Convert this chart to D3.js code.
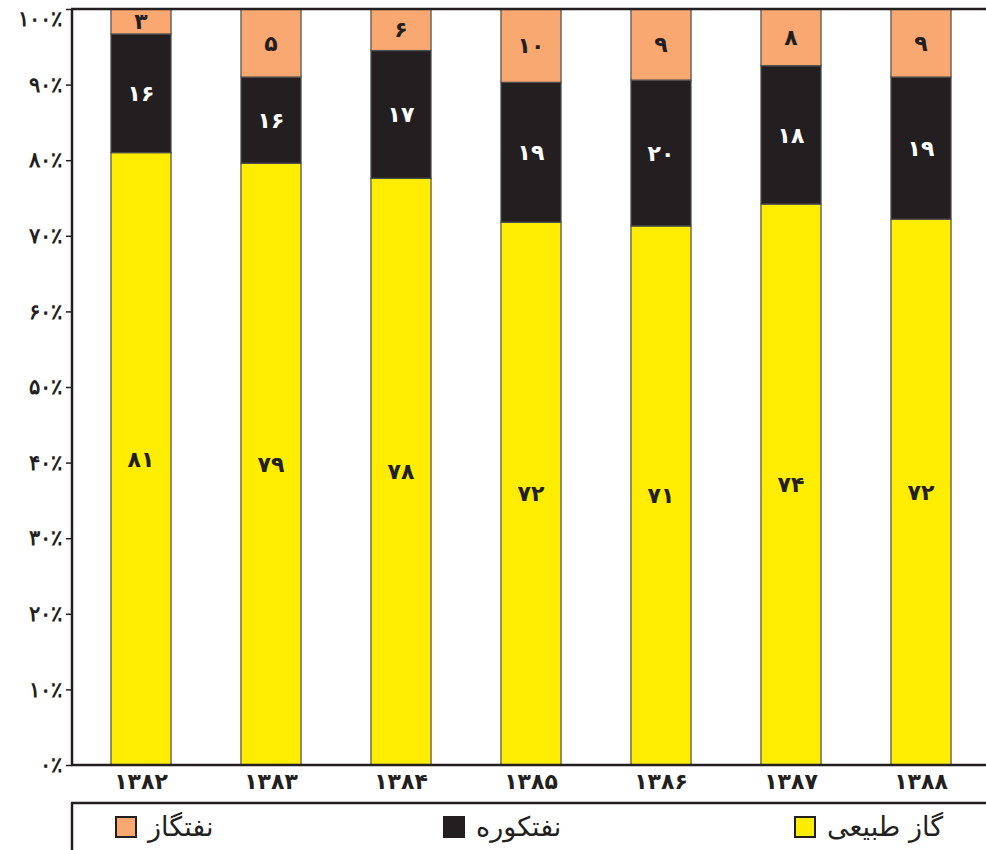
<!DOCTYPE html>
<html>
<head>
<meta charset="utf-8">
<script src="https://cdn.jsdelivr.net/npm/d3@7"></script>
<style>
  body { margin: 0; background: #fff; }
  svg { display: block; font-family: "DejaVu Sans", sans-serif; }
</style>
</head>
<body>
<svg width="986" height="850"></svg>
<script>
// years (Persian calendar)
const years = ["۱۳۸۲", "۱۳۸۳", "۱۳۸۴", "۱۳۸۵", "۱۳۸۶", "۱۳۸۷", "۱۳۸۸"];
// printed share of each fuel, percent
const gas = [81, 79, 78, 72, 71, 74, 72];        // گاز طبیعی
const mazut = [16, 16, 17, 19, 20, 18, 19];      // نفتکوره
const gasoil = [3, 5, 6, 10, 9, 8, 9];           // نفتگاز
// segment heights as drawn in the original (1383 is drawn off its labels)
const gasBar = [81, 79.6, 77.6, 71.8, 71.3, 74.2, 72.2];
const mazutBar = [15.7, 11.4, 16.9, 18.5, 19.3, 18.3, 18.8];
const gasoilBar = [3.3, 9.0, 5.5, 9.7, 9.4, 7.5, 9.0];
const seriesNames = ["گاز طبیعی", "نفتکوره", "نفتگاز"];
const yTicks = [0, 10, 20, 30, 40, 50, 60, 70, 80, 90, 100];

const colors = ["#ffed00", "#231f20", "#f8a870"];
const textColors = ["#231f20", "#ffffff", "#231f20"];
const labels = [gas, mazut, gasoil];

const faDigits = "۰۱۲۳۴۵۶۷۸۹";
const fa = n => String(n).replace(/[0-9]/g, c => faDigits[+c]);

const rows = years.map((y, i) => ({ year: y, i: i, gas: gasBar[i], mazut: mazutBar[i], gasoil: gasoilBar[i] }));
const keys = ["gas", "mazut", "gasoil"];

const stacked = d3.stack()
  .keys(keys)
  .offset(d3.stackOffsetExpand)(rows);

const svg = d3.select("svg");
const mLeft = 72, mTop = 9, mBottom = 765, mRight = 986;

const x = d3.scaleBand()
  .domain(years)
  .range([76, mRight])
  .paddingInner(0.538)
  .paddingOuter(0.269);

const y = d3.scaleLinear()
  .domain([0, 1])
  .range([mBottom, mTop]);

// bars
const layer = svg.selectAll("g.layer")
  .data(stacked)
  .join("g")
    .attr("class", "layer")
    .attr("fill", (d, i) => colors[i]);

layer.selectAll("rect")
  .data(d => d)
  .join("rect")
    .attr("x", d => x(d.data.year))
    .attr("y", d => y(d[1]))
    .attr("width", x.bandwidth())
    .attr("height", d => y(d[0]) - y(d[1]))
    .attr("stroke", "#4d4d4d")
    .attr("stroke-width", 1.2);

// value labels
stacked.forEach((s, si) => {
  svg.append("g")
    .selectAll("text")
    .data(s)
    .join("text")
      .attr("x", d => x(d.data.year) + x.bandwidth() / 2)
      .attr("y", d => (y(d[0]) + y(d[1])) / 2)
      .attr("dy", "0.35em")
      .attr("text-anchor", "middle")
      .attr("font-size", 22)
      .attr("font-weight", "bold")
      .attr("fill", textColors[si])
      .text(d => fa(labels[si][d.data.i]));
});

// y axis
const yAxis = svg.append("g")
  .attr("transform", `translate(${mLeft},0)`)
  .call(d3.axisLeft(y)
    .tickValues(yTicks.map(t => t / 100))
    .tickSize(6)
    .tickPadding(4)
    .tickFormat(d => fa(Math.round(d * 100)) + "٪"));
yAxis.select(".domain").remove();
yAxis.selectAll(".tick line").attr("stroke", "#231f20").attr("stroke-width", 1.5);
yAxis.selectAll(".tick text")
  .attr("font-size", 21)
  .attr("font-weight", "bold")
  .attr("fill", "#231f20")
  .attr("direction", "ltr");
yAxis.selectAll(".tick text").filter(d => d === 1).attr("y", 10);

// frame lines
const lineColor = "#231f20";
svg.append("line").attr("x1", mLeft).attr("x2", mLeft).attr("y1", mTop).attr("y2", mBottom)
  .attr("stroke", lineColor).attr("stroke-width", 2.5);
svg.append("line").attr("x1", mLeft - 1).attr("x2", mRight).attr("y1", mTop).attr("y2", mTop)
  .attr("stroke", lineColor).attr("stroke-width", 2.5);
svg.append("line").attr("x1", mLeft - 1).attr("x2", mRight).attr("y1", mBottom).attr("y2", mBottom)
  .attr("stroke", lineColor).attr("stroke-width", 2.5);

// x labels
svg.append("g")
  .selectAll("text")
  .data(years)
  .join("text")
    .attr("x", d => x(d) + x.bandwidth() / 2)
    .attr("y", 781)
    .attr("dy", "0.35em")
    .attr("text-anchor", "middle")
    .attr("font-size", 22)
    .attr("font-weight", "bold")
    .attr("fill", lineColor)
    .text(d => d);

// legend box
svg.append("line").attr("x1", mLeft - 1).attr("x2", mRight).attr("y1", 803).attr("y2", 803)
  .attr("stroke", lineColor).attr("stroke-width", 2.5);
svg.append("line").attr("x1", mLeft).attr("x2", mLeft).attr("y1", 803).attr("y2", 850)
  .attr("stroke", lineColor).attr("stroke-width", 2.5);

const legendX = [116, 444, 795];
const legendOrder = [2, 1, 0];
const legend = svg.append("g")
  .selectAll("g")
  .data(legendOrder)
  .join("g")
    .attr("transform", (d, i) => `translate(${legendX[i]},817)`);

legend.append("rect")
  .attr("width", 20)
  .attr("height", 20)
  .attr("fill", d => colors[d])
  .attr("stroke", lineColor)
  .attr("stroke-width", 2);

legend.append("text")
  .attr("x", 32)
  .attr("y", 10)
  .attr("dy", "0.35em")
  .attr("font-size", 27)
  .attr("fill", lineColor)
  .text(d => seriesNames[d]);
</script>
</body>
</html>
